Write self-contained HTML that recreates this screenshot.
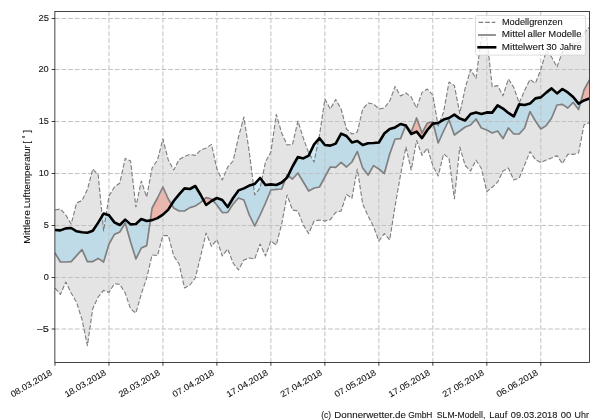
<!DOCTYPE html>
<html><head><meta charset="utf-8"><title>chart</title>
<style>
html,body{margin:0;padding:0;background:#fff;}
body{width:600px;height:420px;overflow:hidden;}
svg{display:block;}
text{font-family:"Liberation Sans", sans-serif;font-size:8.6px;fill:#151515;stroke:#151515;stroke-width:0.1px;}
.tx{opacity:0.999;}
</style></head><body>
<svg width="600" height="420" viewBox="0 0 600 420">
<rect x="0" y="0" width="600" height="420" fill="#ffffff"/>
<defs>
<clipPath id="ax"><rect x="54.87" y="11.5" width="534.63" height="351.0"/></clipPath>
<clipPath id="belowB"><polygon points="55.0,230.0 60.4,230.4 65.8,228.4 71.2,228.0 76.6,231.3 82.0,232.3 87.4,232.7 92.8,230.7 98.2,222.6 103.6,213.6 109.0,215.2 114.4,222.4 119.8,225.0 125.2,219.6 130.6,224.4 135.9,224.0 141.3,219.0 146.7,221.0 152.1,220.1 157.5,218.1 162.9,214.6 168.3,209.6 173.7,201.0 179.1,194.4 184.5,188.4 189.9,189.0 195.3,186.0 200.7,195.0 206.1,205.0 211.5,201.0 216.9,198.0 222.3,200.0 227.7,207.0 233.1,198.0 238.5,190.4 243.9,188.4 249.3,185.6 254.7,184.0 260.1,178.0 265.5,185.0 270.9,184.4 276.3,185.0 281.7,182.5 287.1,177.6 292.5,166.5 297.9,157.0 303.3,158.4 308.7,155.6 314.1,144.4 319.5,138.2 324.9,145.0 330.3,145.6 335.7,143.6 341.1,133.6 346.5,136.0 351.9,142.4 357.3,141.0 362.7,145.0 368.1,143.2 373.5,143.0 378.9,142.5 384.3,133.5 389.7,129.0 395.1,127.4 400.5,124.0 405.9,125.6 411.2,134.0 416.6,131.6 422.0,138.1 427.4,130.0 432.8,123.6 438.2,123.0 443.6,119.6 449.0,118.0 454.4,114.6 459.8,118.6 465.2,120.4 470.6,114.0 476.0,112.4 481.4,113.9 486.8,112.4 492.2,112.6 497.6,105.4 503.0,108.6 508.4,112.9 513.8,116.4 519.2,104.4 524.6,105.0 530.0,103.6 535.4,98.4 540.8,97.4 546.2,92.6 551.6,88.4 557.0,93.4 562.4,89.0 567.8,92.4 573.2,97.0 578.6,103.6 584.0,100.4 589.4,98.6 589.5,362.5 54.87,362.5"/></clipPath>
<clipPath id="aboveB"><polygon points="55.0,230.0 60.4,230.4 65.8,228.4 71.2,228.0 76.6,231.3 82.0,232.3 87.4,232.7 92.8,230.7 98.2,222.6 103.6,213.6 109.0,215.2 114.4,222.4 119.8,225.0 125.2,219.6 130.6,224.4 135.9,224.0 141.3,219.0 146.7,221.0 152.1,220.1 157.5,218.1 162.9,214.6 168.3,209.6 173.7,201.0 179.1,194.4 184.5,188.4 189.9,189.0 195.3,186.0 200.7,195.0 206.1,205.0 211.5,201.0 216.9,198.0 222.3,200.0 227.7,207.0 233.1,198.0 238.5,190.4 243.9,188.4 249.3,185.6 254.7,184.0 260.1,178.0 265.5,185.0 270.9,184.4 276.3,185.0 281.7,182.5 287.1,177.6 292.5,166.5 297.9,157.0 303.3,158.4 308.7,155.6 314.1,144.4 319.5,138.2 324.9,145.0 330.3,145.6 335.7,143.6 341.1,133.6 346.5,136.0 351.9,142.4 357.3,141.0 362.7,145.0 368.1,143.2 373.5,143.0 378.9,142.5 384.3,133.5 389.7,129.0 395.1,127.4 400.5,124.0 405.9,125.6 411.2,134.0 416.6,131.6 422.0,138.1 427.4,130.0 432.8,123.6 438.2,123.0 443.6,119.6 449.0,118.0 454.4,114.6 459.8,118.6 465.2,120.4 470.6,114.0 476.0,112.4 481.4,113.9 486.8,112.4 492.2,112.6 497.6,105.4 503.0,108.6 508.4,112.9 513.8,116.4 519.2,104.4 524.6,105.0 530.0,103.6 535.4,98.4 540.8,97.4 546.2,92.6 551.6,88.4 557.0,93.4 562.4,89.0 567.8,92.4 573.2,97.0 578.6,103.6 584.0,100.4 589.4,98.6 589.5,11.5 54.87,11.5"/></clipPath>
</defs>
<g clip-path="url(#ax)">
<polygon points="55.0,210.0 60.4,209.0 65.8,215.0 71.2,224.0 76.6,203.0 82.0,200.5 87.4,189.5 92.8,169.0 98.2,175.0 103.6,231.0 109.0,196.0 114.4,187.0 119.8,183.0 125.2,158.4 130.6,161.0 135.9,207.0 141.3,181.0 146.7,197.0 152.1,168.0 157.5,160.0 162.9,139.0 168.3,160.0 173.7,170.0 179.1,159.6 184.5,156.4 189.9,154.4 195.3,155.4 200.7,150.0 206.1,148.0 211.5,144.4 216.9,169.0 222.3,180.0 227.7,167.0 233.1,161.0 238.5,137.0 243.9,117.0 249.3,152.0 254.7,195.0 260.1,188.0 265.5,162.0 270.9,152.0 276.3,114.5 281.7,133.0 287.1,145.0 292.5,144.4 297.9,121.0 303.3,138.0 308.7,153.0 314.1,162.0 319.5,135.0 324.9,99.0 330.3,109.0 335.7,99.4 341.1,109.0 346.5,129.0 351.9,134.0 357.3,132.0 362.7,109.0 368.1,103.0 373.5,104.0 378.9,109.0 384.3,108.0 389.7,101.0 395.1,86.4 400.5,96.0 405.9,93.0 411.2,97.0 416.6,108.0 422.0,92.4 427.4,89.0 432.8,95.0 438.2,126.0 443.6,112.0 449.0,82.0 454.4,85.6 459.8,113.5 465.2,88.0 470.6,69.6 476.0,78.4 481.4,37.0 486.8,37.5 492.2,86.8 497.6,85.6 503.0,95.8 508.4,79.0 513.8,87.5 519.2,103.0 524.6,90.5 530.0,79.5 535.4,83.3 540.8,69.5 546.2,51.0 551.6,57.0 557.0,67.0 562.4,52.0 567.8,49.0 573.2,43.0 578.6,43.0 584.0,33.0 589.4,27.0 589.4,122.4 584.0,125.0 578.6,153.0 573.2,154.4 567.8,154.4 562.4,163.6 557.0,155.6 551.6,158.0 546.2,160.0 540.8,162.6 535.4,159.6 530.0,151.6 524.6,165.0 519.2,178.0 513.8,180.0 508.4,168.0 503.0,171.0 497.6,182.2 492.2,187.3 486.8,191.6 481.4,168.5 476.0,160.2 470.6,171.0 465.2,165.5 459.8,147.0 454.4,199.0 449.0,158.5 443.6,153.8 438.2,176.0 432.8,165.5 427.4,148.0 422.0,155.3 416.6,140.5 411.2,170.0 405.9,147.0 400.5,175.0 395.1,206.0 389.7,240.0 384.3,233.6 378.9,241.0 373.5,226.4 368.1,216.0 362.7,204.0 357.3,169.0 351.9,198.4 346.5,194.4 341.1,211.0 335.7,212.4 330.3,219.6 324.9,221.0 319.5,220.0 314.1,221.0 308.7,233.6 303.3,225.0 297.9,211.0 292.5,210.0 287.1,195.0 281.7,224.0 276.3,245.0 270.9,241.0 265.5,256.0 260.1,244.0 254.7,259.0 249.3,258.0 243.9,260.0 238.5,270.0 233.1,263.0 227.7,249.0 222.3,256.0 216.9,239.6 211.5,246.4 206.1,233.0 200.7,256.0 195.3,278.0 189.9,285.0 184.5,288.0 179.1,264.0 173.7,256.0 168.3,235.6 162.9,235.6 157.5,255.6 152.1,255.0 146.7,278.0 141.3,294.0 135.9,313.0 130.6,309.0 125.2,293.0 119.8,284.4 114.4,283.6 109.0,292.4 103.6,290.4 98.2,297.0 92.8,308.5 87.4,345.6 82.0,319.5 76.6,302.5 71.2,293.0 65.8,282.0 60.4,294.4 55.0,288.0" fill="#e4e4e4"/>
<g clip-path="url(#belowB)"><polygon points="55.0,230.0 60.4,230.4 65.8,228.4 71.2,228.0 76.6,231.3 82.0,232.3 87.4,232.7 92.8,230.7 98.2,222.6 103.6,213.6 109.0,215.2 114.4,222.4 119.8,225.0 125.2,219.6 130.6,224.4 135.9,224.0 141.3,219.0 146.7,221.0 152.1,220.1 157.5,218.1 162.9,214.6 168.3,209.6 173.7,201.0 179.1,194.4 184.5,188.4 189.9,189.0 195.3,186.0 200.7,195.0 206.1,205.0 211.5,201.0 216.9,198.0 222.3,200.0 227.7,207.0 233.1,198.0 238.5,190.4 243.9,188.4 249.3,185.6 254.7,184.0 260.1,178.0 265.5,185.0 270.9,184.4 276.3,185.0 281.7,182.5 287.1,177.6 292.5,166.5 297.9,157.0 303.3,158.4 308.7,155.6 314.1,144.4 319.5,138.2 324.9,145.0 330.3,145.6 335.7,143.6 341.1,133.6 346.5,136.0 351.9,142.4 357.3,141.0 362.7,145.0 368.1,143.2 373.5,143.0 378.9,142.5 384.3,133.5 389.7,129.0 395.1,127.4 400.5,124.0 405.9,125.6 411.2,134.0 416.6,131.6 422.0,138.1 427.4,130.0 432.8,123.6 438.2,123.0 443.6,119.6 449.0,118.0 454.4,114.6 459.8,118.6 465.2,120.4 470.6,114.0 476.0,112.4 481.4,113.9 486.8,112.4 492.2,112.6 497.6,105.4 503.0,108.6 508.4,112.9 513.8,116.4 519.2,104.4 524.6,105.0 530.0,103.6 535.4,98.4 540.8,97.4 546.2,92.6 551.6,88.4 557.0,93.4 562.4,89.0 567.8,92.4 573.2,97.0 578.6,103.6 584.0,100.4 589.4,98.6 589.4,80.0 584.0,90.0 578.6,109.6 573.2,102.4 567.8,108.0 562.4,104.4 557.0,105.0 551.6,118.0 546.2,125.6 540.8,129.0 535.4,121.0 530.0,111.6 524.6,128.0 519.2,134.0 513.8,134.0 508.4,128.0 503.0,138.6 497.6,131.0 492.2,133.0 486.8,130.0 481.4,128.0 476.0,119.0 470.6,125.0 465.2,127.0 459.8,131.0 454.4,135.0 449.0,120.0 443.6,131.0 438.2,143.0 432.8,122.0 427.4,123.0 422.0,133.0 416.6,118.0 411.2,132.0 405.9,125.0 400.5,138.6 395.1,139.0 389.7,154.0 384.3,173.6 378.9,169.0 373.5,165.6 368.1,175.0 362.7,168.0 357.3,151.6 351.9,162.0 346.5,167.0 341.1,162.4 335.7,167.4 330.3,167.0 324.9,177.0 319.5,187.0 314.1,188.0 308.7,191.0 303.3,182.0 297.9,173.0 292.5,179.0 287.1,175.0 281.7,189.0 276.3,189.4 270.9,190.0 265.5,203.0 260.1,215.0 254.7,226.0 249.3,215.0 243.9,200.0 238.5,198.0 233.1,204.0 227.7,212.4 222.3,212.6 216.9,205.0 211.5,199.0 206.1,197.6 200.7,202.4 195.3,206.0 189.9,207.6 184.5,211.0 179.1,211.0 173.7,208.0 168.3,199.0 162.9,187.0 157.5,198.0 152.1,208.0 146.7,245.6 141.3,248.0 135.9,259.0 130.6,242.0 125.2,223.0 119.8,232.0 114.4,234.4 109.0,244.0 103.6,262.0 98.2,258.4 92.8,261.6 87.4,261.6 82.0,249.6 76.6,255.6 71.2,261.6 65.8,262.0 60.4,262.0 55.0,253.0" fill="rgba(135,206,235,0.40)"/></g>
<g clip-path="url(#aboveB)"><polygon points="55.0,230.0 60.4,230.4 65.8,228.4 71.2,228.0 76.6,231.3 82.0,232.3 87.4,232.7 92.8,230.7 98.2,222.6 103.6,213.6 109.0,215.2 114.4,222.4 119.8,225.0 125.2,219.6 130.6,224.4 135.9,224.0 141.3,219.0 146.7,221.0 152.1,220.1 157.5,218.1 162.9,214.6 168.3,209.6 173.7,201.0 179.1,194.4 184.5,188.4 189.9,189.0 195.3,186.0 200.7,195.0 206.1,205.0 211.5,201.0 216.9,198.0 222.3,200.0 227.7,207.0 233.1,198.0 238.5,190.4 243.9,188.4 249.3,185.6 254.7,184.0 260.1,178.0 265.5,185.0 270.9,184.4 276.3,185.0 281.7,182.5 287.1,177.6 292.5,166.5 297.9,157.0 303.3,158.4 308.7,155.6 314.1,144.4 319.5,138.2 324.9,145.0 330.3,145.6 335.7,143.6 341.1,133.6 346.5,136.0 351.9,142.4 357.3,141.0 362.7,145.0 368.1,143.2 373.5,143.0 378.9,142.5 384.3,133.5 389.7,129.0 395.1,127.4 400.5,124.0 405.9,125.6 411.2,134.0 416.6,131.6 422.0,138.1 427.4,130.0 432.8,123.6 438.2,123.0 443.6,119.6 449.0,118.0 454.4,114.6 459.8,118.6 465.2,120.4 470.6,114.0 476.0,112.4 481.4,113.9 486.8,112.4 492.2,112.6 497.6,105.4 503.0,108.6 508.4,112.9 513.8,116.4 519.2,104.4 524.6,105.0 530.0,103.6 535.4,98.4 540.8,97.4 546.2,92.6 551.6,88.4 557.0,93.4 562.4,89.0 567.8,92.4 573.2,97.0 578.6,103.6 584.0,100.4 589.4,98.6 589.4,80.0 584.0,90.0 578.6,109.6 573.2,102.4 567.8,108.0 562.4,104.4 557.0,105.0 551.6,118.0 546.2,125.6 540.8,129.0 535.4,121.0 530.0,111.6 524.6,128.0 519.2,134.0 513.8,134.0 508.4,128.0 503.0,138.6 497.6,131.0 492.2,133.0 486.8,130.0 481.4,128.0 476.0,119.0 470.6,125.0 465.2,127.0 459.8,131.0 454.4,135.0 449.0,120.0 443.6,131.0 438.2,143.0 432.8,122.0 427.4,123.0 422.0,133.0 416.6,118.0 411.2,132.0 405.9,125.0 400.5,138.6 395.1,139.0 389.7,154.0 384.3,173.6 378.9,169.0 373.5,165.6 368.1,175.0 362.7,168.0 357.3,151.6 351.9,162.0 346.5,167.0 341.1,162.4 335.7,167.4 330.3,167.0 324.9,177.0 319.5,187.0 314.1,188.0 308.7,191.0 303.3,182.0 297.9,173.0 292.5,179.0 287.1,175.0 281.7,189.0 276.3,189.4 270.9,190.0 265.5,203.0 260.1,215.0 254.7,226.0 249.3,215.0 243.9,200.0 238.5,198.0 233.1,204.0 227.7,212.4 222.3,212.6 216.9,205.0 211.5,199.0 206.1,197.6 200.7,202.4 195.3,206.0 189.9,207.6 184.5,211.0 179.1,211.0 173.7,208.0 168.3,199.0 162.9,187.0 157.5,198.0 152.1,208.0 146.7,245.6 141.3,248.0 135.9,259.0 130.6,242.0 125.2,223.0 119.8,232.0 114.4,234.4 109.0,244.0 103.6,262.0 98.2,258.4 92.8,261.6 87.4,261.6 82.0,249.6 76.6,255.6 71.2,261.6 65.8,262.0 60.4,262.0 55.0,253.0" fill="rgba(250,113,88,0.40)"/></g>
</g>

<g stroke="#c1c1c1" stroke-width="1" stroke-dasharray="4.65 2.017" fill="none">
<line x1="108.96" y1="11.5" x2="108.96" y2="362.5"/>
<line x1="162.94" y1="11.5" x2="162.94" y2="362.5"/>
<line x1="216.92" y1="11.5" x2="216.92" y2="362.5"/>
<line x1="270.90" y1="11.5" x2="270.90" y2="362.5"/>
<line x1="324.88" y1="11.5" x2="324.88" y2="362.5"/>
<line x1="378.86" y1="11.5" x2="378.86" y2="362.5"/>
<line x1="432.84" y1="11.5" x2="432.84" y2="362.5"/>
<line x1="486.82" y1="11.5" x2="486.82" y2="362.5"/>
<line x1="540.80" y1="11.5" x2="540.80" y2="362.5"/>
<line x1="54.87" y1="18.5" x2="589.5" y2="18.5"/>
<line x1="54.87" y1="69.5" x2="589.5" y2="69.5"/>
<line x1="54.87" y1="121.5" x2="589.5" y2="121.5"/>
<line x1="54.87" y1="173.5" x2="589.5" y2="173.5"/>
<line x1="54.87" y1="225.5" x2="589.5" y2="225.5"/>
<line x1="54.87" y1="277.5" x2="589.5" y2="277.5"/>
<line x1="54.87" y1="329.0" x2="589.5" y2="329.0"/>
</g>
<g clip-path="url(#ax)" fill="none" stroke-linejoin="round">
<polyline points="55.0,210.0 60.4,209.0 65.8,215.0 71.2,224.0 76.6,203.0 82.0,200.5 87.4,189.5 92.8,169.0 98.2,175.0 103.6,231.0 109.0,196.0 114.4,187.0 119.8,183.0 125.2,158.4 130.6,161.0 135.9,207.0 141.3,181.0 146.7,197.0 152.1,168.0 157.5,160.0 162.9,139.0 168.3,160.0 173.7,170.0 179.1,159.6 184.5,156.4 189.9,154.4 195.3,155.4 200.7,150.0 206.1,148.0 211.5,144.4 216.9,169.0 222.3,180.0 227.7,167.0 233.1,161.0 238.5,137.0 243.9,117.0 249.3,152.0 254.7,195.0 260.1,188.0 265.5,162.0 270.9,152.0 276.3,114.5 281.7,133.0 287.1,145.0 292.5,144.4 297.9,121.0 303.3,138.0 308.7,153.0 314.1,162.0 319.5,135.0 324.9,99.0 330.3,109.0 335.7,99.4 341.1,109.0 346.5,129.0 351.9,134.0 357.3,132.0 362.7,109.0 368.1,103.0 373.5,104.0 378.9,109.0 384.3,108.0 389.7,101.0 395.1,86.4 400.5,96.0 405.9,93.0 411.2,97.0 416.6,108.0 422.0,92.4 427.4,89.0 432.8,95.0 438.2,126.0 443.6,112.0 449.0,82.0 454.4,85.6 459.8,113.5 465.2,88.0 470.6,69.6 476.0,78.4 481.4,37.0 486.8,37.5 492.2,86.8 497.6,85.6 503.0,95.8 508.4,79.0 513.8,87.5 519.2,103.0 524.6,90.5 530.0,79.5 535.4,83.3 540.8,69.5 546.2,51.0 551.6,57.0 557.0,67.0 562.4,52.0 567.8,49.0 573.2,43.0 578.6,43.0 584.0,33.0 589.4,27.0" stroke="#7e7e7e" stroke-width="1.12" stroke-dasharray="4.6 2"/>
<polyline points="55.0,288.0 60.4,294.4 65.8,282.0 71.2,293.0 76.6,302.5 82.0,319.5 87.4,345.6 92.8,308.5 98.2,297.0 103.6,290.4 109.0,292.4 114.4,283.6 119.8,284.4 125.2,293.0 130.6,309.0 135.9,313.0 141.3,294.0 146.7,278.0 152.1,255.0 157.5,255.6 162.9,235.6 168.3,235.6 173.7,256.0 179.1,264.0 184.5,288.0 189.9,285.0 195.3,278.0 200.7,256.0 206.1,233.0 211.5,246.4 216.9,239.6 222.3,256.0 227.7,249.0 233.1,263.0 238.5,270.0 243.9,260.0 249.3,258.0 254.7,259.0 260.1,244.0 265.5,256.0 270.9,241.0 276.3,245.0 281.7,224.0 287.1,195.0 292.5,210.0 297.9,211.0 303.3,225.0 308.7,233.6 314.1,221.0 319.5,220.0 324.9,221.0 330.3,219.6 335.7,212.4 341.1,211.0 346.5,194.4 351.9,198.4 357.3,169.0 362.7,204.0 368.1,216.0 373.5,226.4 378.9,241.0 384.3,233.6 389.7,240.0 395.1,206.0 400.5,175.0 405.9,147.0 411.2,170.0 416.6,140.5 422.0,155.3 427.4,148.0 432.8,165.5 438.2,176.0 443.6,153.8 449.0,158.5 454.4,199.0 459.8,147.0 465.2,165.5 470.6,171.0 476.0,160.2 481.4,168.5 486.8,191.6 492.2,187.3 497.6,182.2 503.0,171.0 508.4,168.0 513.8,180.0 519.2,178.0 524.6,165.0 530.0,151.6 535.4,159.6 540.8,162.6 546.2,160.0 551.6,158.0 557.0,155.6 562.4,163.6 567.8,154.4 573.2,154.4 578.6,153.0 584.0,125.0 589.4,122.4" stroke="#7e7e7e" stroke-width="1.12" stroke-dasharray="4.6 2"/>
<polyline points="55.0,253.0 60.4,262.0 65.8,262.0 71.2,261.6 76.6,255.6 82.0,249.6 87.4,261.6 92.8,261.6 98.2,258.4 103.6,262.0 109.0,244.0 114.4,234.4 119.8,232.0 125.2,223.0 130.6,242.0 135.9,259.0 141.3,248.0 146.7,245.6 152.1,208.0 157.5,198.0 162.9,187.0 168.3,199.0 173.7,208.0 179.1,211.0 184.5,211.0 189.9,207.6 195.3,206.0 200.7,202.4 206.1,197.6 211.5,199.0 216.9,205.0 222.3,212.6 227.7,212.4 233.1,204.0 238.5,198.0 243.9,200.0 249.3,215.0 254.7,226.0 260.1,215.0 265.5,203.0 270.9,190.0 276.3,189.4 281.7,189.0 287.1,175.0 292.5,179.0 297.9,173.0 303.3,182.0 308.7,191.0 314.1,188.0 319.5,187.0 324.9,177.0 330.3,167.0 335.7,167.4 341.1,162.4 346.5,167.0 351.9,162.0 357.3,151.6 362.7,168.0 368.1,175.0 373.5,165.6 378.9,169.0 384.3,173.6 389.7,154.0 395.1,139.0 400.5,138.6 405.9,125.0 411.2,132.0 416.6,118.0 422.0,133.0 427.4,123.0 432.8,122.0 438.2,143.0 443.6,131.0 449.0,120.0 454.4,135.0 459.8,131.0 465.2,127.0 470.6,125.0 476.0,119.0 481.4,128.0 486.8,130.0 492.2,133.0 497.6,131.0 503.0,138.6 508.4,128.0 513.8,134.0 519.2,134.0 524.6,128.0 530.0,111.6 535.4,121.0 540.8,129.0 546.2,125.6 551.6,118.0 557.0,105.0 562.4,104.4 567.8,108.0 573.2,102.4 578.6,109.6 584.0,90.0 589.4,80.0" stroke="#808080" stroke-width="1.7"/>
<polyline points="55.0,230.0 60.4,230.4 65.8,228.4 71.2,228.0 76.6,231.3 82.0,232.3 87.4,232.7 92.8,230.7 98.2,222.6 103.6,213.6 109.0,215.2 114.4,222.4 119.8,225.0 125.2,219.6 130.6,224.4 135.9,224.0 141.3,219.0 146.7,221.0 152.1,220.1 157.5,218.1 162.9,214.6 168.3,209.6 173.7,201.0 179.1,194.4 184.5,188.4 189.9,189.0 195.3,186.0 200.7,195.0 206.1,205.0 211.5,201.0 216.9,198.0 222.3,200.0 227.7,207.0 233.1,198.0 238.5,190.4 243.9,188.4 249.3,185.6 254.7,184.0 260.1,178.0 265.5,185.0 270.9,184.4 276.3,185.0 281.7,182.5 287.1,177.6 292.5,166.5 297.9,157.0 303.3,158.4 308.7,155.6 314.1,144.4 319.5,138.2 324.9,145.0 330.3,145.6 335.7,143.6 341.1,133.6 346.5,136.0 351.9,142.4 357.3,141.0 362.7,145.0 368.1,143.2 373.5,143.0 378.9,142.5 384.3,133.5 389.7,129.0 395.1,127.4 400.5,124.0 405.9,125.6 411.2,134.0 416.6,131.6 422.0,138.1 427.4,130.0 432.8,123.6 438.2,123.0 443.6,119.6 449.0,118.0 454.4,114.6 459.8,118.6 465.2,120.4 470.6,114.0 476.0,112.4 481.4,113.9 486.8,112.4 492.2,112.6 497.6,105.4 503.0,108.6 508.4,112.9 513.8,116.4 519.2,104.4 524.6,105.0 530.0,103.6 535.4,98.4 540.8,97.4 546.2,92.6 551.6,88.4 557.0,93.4 562.4,89.0 567.8,92.4 573.2,97.0 578.6,103.6 584.0,100.4 589.4,98.6" stroke="#000" stroke-width="2.6"/>
</g>
<rect x="54.87" y="11.5" width="534.63" height="351.0" fill="none" stroke="#161616" stroke-width="0.8"/>
<g stroke="#000" stroke-width="0.78">
<line x1="54.98" y1="362.5" x2="54.98" y2="365.7"/>
<line x1="108.96" y1="362.5" x2="108.96" y2="365.7"/>
<line x1="162.94" y1="362.5" x2="162.94" y2="365.7"/>
<line x1="216.92" y1="362.5" x2="216.92" y2="365.7"/>
<line x1="270.90" y1="362.5" x2="270.90" y2="365.7"/>
<line x1="324.88" y1="362.5" x2="324.88" y2="365.7"/>
<line x1="378.86" y1="362.5" x2="378.86" y2="365.7"/>
<line x1="432.84" y1="362.5" x2="432.84" y2="365.7"/>
<line x1="486.82" y1="362.5" x2="486.82" y2="365.7"/>
<line x1="540.80" y1="362.5" x2="540.80" y2="365.7"/>
<line x1="51.67" y1="18.5" x2="54.87" y2="18.5"/>
<line x1="51.67" y1="69.5" x2="54.87" y2="69.5"/>
<line x1="51.67" y1="121.5" x2="54.87" y2="121.5"/>
<line x1="51.67" y1="173.5" x2="54.87" y2="173.5"/>
<line x1="51.67" y1="225.5" x2="54.87" y2="225.5"/>
<line x1="51.67" y1="277.5" x2="54.87" y2="277.5"/>
<line x1="51.67" y1="329.0" x2="54.87" y2="329.0"/>
</g>
<g class="tx">
<text x="52.78" y="374.40" text-anchor="end" textLength="46.30" lengthAdjust="spacingAndGlyphs" transform="rotate(-30 52.78 374.40)">08.03.2018</text>
<text x="106.76" y="374.40" text-anchor="end" textLength="46.30" lengthAdjust="spacingAndGlyphs" transform="rotate(-30 106.76 374.40)">18.03.2018</text>
<text x="160.74" y="374.40" text-anchor="end" textLength="46.30" lengthAdjust="spacingAndGlyphs" transform="rotate(-30 160.74 374.40)">28.03.2018</text>
<text x="214.72" y="374.40" text-anchor="end" textLength="46.30" lengthAdjust="spacingAndGlyphs" transform="rotate(-30 214.72 374.40)">07.04.2018</text>
<text x="268.70" y="374.40" text-anchor="end" textLength="46.30" lengthAdjust="spacingAndGlyphs" transform="rotate(-30 268.70 374.40)">17.04.2018</text>
<text x="322.68" y="374.40" text-anchor="end" textLength="46.30" lengthAdjust="spacingAndGlyphs" transform="rotate(-30 322.68 374.40)">27.04.2018</text>
<text x="376.66" y="374.40" text-anchor="end" textLength="46.30" lengthAdjust="spacingAndGlyphs" transform="rotate(-30 376.66 374.40)">07.05.2018</text>
<text x="430.64" y="374.40" text-anchor="end" textLength="46.30" lengthAdjust="spacingAndGlyphs" transform="rotate(-30 430.64 374.40)">17.05.2018</text>
<text x="484.62" y="374.40" text-anchor="end" textLength="46.30" lengthAdjust="spacingAndGlyphs" transform="rotate(-30 484.62 374.40)">27.05.2018</text>
<text x="538.60" y="374.40" text-anchor="end" textLength="46.30" lengthAdjust="spacingAndGlyphs" transform="rotate(-30 538.60 374.40)">06.06.2018</text>
<g transform="translate(29.8 243.3) rotate(-90)">
<text id="v0" x="-0.55" y="0" textLength="33.79" lengthAdjust="spacingAndGlyphs">Mittlere</text>
<text id="v1" x="35.04" y="0" textLength="63.04" lengthAdjust="spacingAndGlyphs">Lufttemperatur</text>
<text id="v2" x="99.68" y="0" textLength="2.80" lengthAdjust="spacingAndGlyphs">[</text>
<text id="v3" x="105.12" y="0" textLength="2.80" lengthAdjust="spacingAndGlyphs">˚</text>
<text id="v4" x="110.45" y="0" textLength="2.80" lengthAdjust="spacingAndGlyphs">]</text>
</g>
<rect x="475.5" y="15.5" width="110" height="39.6" rx="1.7" ry="1.7" fill="rgba(255,255,255,0.8)" stroke="rgba(204,204,204,0.8)" stroke-width="0.85"/>
<line x1="478.6" y1="22.4" x2="495.3" y2="22.4" stroke="#7e7e7e" stroke-width="1.12" stroke-dasharray="4.6 2"/>
<line x1="478.0" y1="35.0" x2="495.9" y2="35.0" stroke="#808080" stroke-width="1.7"/>
<line x1="477.3" y1="47.3" x2="496.4" y2="47.3" stroke="#000" stroke-width="2.6"/>
<text id="f0" x="321.26" y="418.0" textLength="9.83" lengthAdjust="spacingAndGlyphs">(c)</text>
<text id="f1" x="334.34" y="418.0" textLength="71.54" lengthAdjust="spacingAndGlyphs">Donnerwetter.de</text>
<text id="f2" x="408.19" y="418.0" textLength="24.26" lengthAdjust="spacingAndGlyphs">GmbH</text>
<text id="f3" x="436.84" y="418.0" textLength="48.54" lengthAdjust="spacingAndGlyphs">SLM-Modell,</text>
<text id="f4" x="489.35" y="418.0" textLength="17.86" lengthAdjust="spacingAndGlyphs">Lauf</text>
<text id="f5" x="510.86" y="418.0" textLength="46.54" lengthAdjust="spacingAndGlyphs">09.03.2018</text>
<text id="f6" x="560.85" y="418.0" textLength="10.54" lengthAdjust="spacingAndGlyphs">00</text>
<text id="f7" x="574.59" y="418.0" textLength="14.29" lengthAdjust="spacingAndGlyphs">Uhr</text>
<text id="l0" x="501.91" y="24.8" textLength="60.67" lengthAdjust="spacingAndGlyphs">Modellgrenzen</text>
<text id="l1" x="501.74" y="37.2" textLength="23.67" lengthAdjust="spacingAndGlyphs">Mittel</text>
<text id="l2" x="527.60" y="37.2" textLength="18.01" lengthAdjust="spacingAndGlyphs">aller</text>
<text id="l3" x="548.28" y="37.2" textLength="33.14" lengthAdjust="spacingAndGlyphs">Modelle</text>
<text id="l4" x="501.75" y="49.7" textLength="42.18" lengthAdjust="spacingAndGlyphs">Mittelwert</text>
<text id="l5" x="546.33" y="49.7" textLength="10.50" lengthAdjust="spacingAndGlyphs">30</text>
<text id="l6" x="559.73" y="49.7" textLength="21.85" lengthAdjust="spacingAndGlyphs">Jahre</text>
<text id="y25" x="38.42" y="21.1" textLength="10.48" lengthAdjust="spacingAndGlyphs">25</text>
<text id="y20" x="38.45" y="72.1" textLength="10.28" lengthAdjust="spacingAndGlyphs">20</text>
<text id="y15" x="38.65" y="124.1" textLength="10.16" lengthAdjust="spacingAndGlyphs">15</text>
<text id="y10" x="38.65" y="176.1" textLength="10.06" lengthAdjust="spacingAndGlyphs">10</text>
<text id="y5" x="43.84" y="228.1" textLength="5.10" lengthAdjust="spacingAndGlyphs">5</text>
<text id="y0" x="43.83" y="280.1" textLength="5.12" lengthAdjust="spacingAndGlyphs">0</text>
<text id="ym5" x="36.37" y="331.8" textLength="12.69" lengthAdjust="spacingAndGlyphs">−5</text>
</g>
</svg></body></html>
